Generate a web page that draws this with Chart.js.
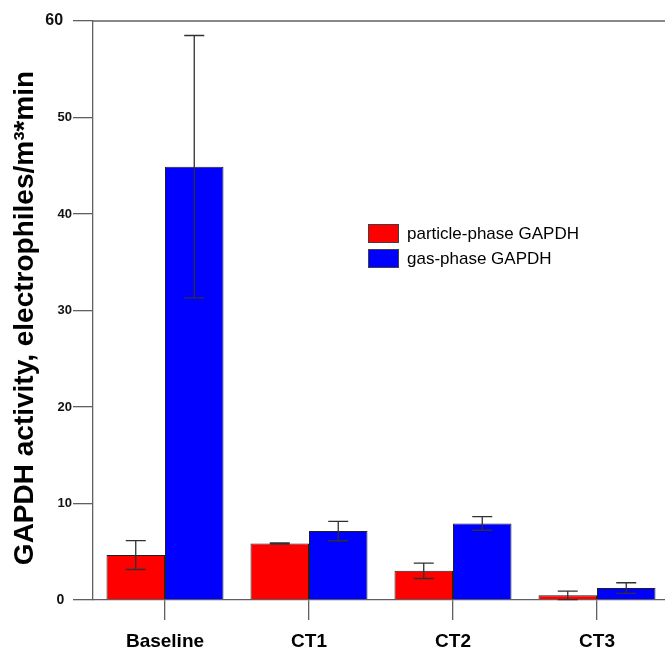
<!DOCTYPE html>
<html>
<head>
<meta charset="utf-8">
<script src="https://cdn.jsdelivr.net/npm/chart.js@4"></script>
<style>
  html, body { margin: 0; padding: 0; background: #fff; overflow: hidden; }
  #wrap { width: 665px; height: 649px; overflow: hidden; }
  canvas { display: block; }
</style>
</head>
<body>
<div id="wrap"><canvas id="c" width="669" height="649" style="width:669px;height:649px"></canvas></div>
<script>
const categories = ['Baseline', 'CT1', 'CT2', 'CT3'];
const seriesLabels = ['particle-phase GAPDH', 'gas-phase GAPDH'];
const particleValues = [4.66, 5.86, 3.03, 0.48];
const particleErrors = [1.5, 0.06, 0.8, 0.45];
const gasValues = [44.9, 7.14, 7.93, 1.24];
const gasErrors = [13.6, 1.0, 0.7, 0.55];
const yTicks = [0, 10, 20, 30, 40, 50, 60];
const yTitle = 'GAPDH activity, electrophiles/m³*min';

const FONT = "'Liberation Sans', Arial, Helvetica, sans-serif";
const AXIS = '#606060';
Chart.defaults.font.family = FONT;

const errorSets = [particleErrors, gasErrors];

const extras = {
  id: 'extras',
  afterDatasetsDraw(chart) {
    const ctx = chart.ctx;
    const y = chart.scales.y;
    ctx.save();
    ctx.strokeStyle = '#303030';
    ctx.lineWidth = 1.3;
    errorSets.forEach((errs, di) => {
      const meta = chart.getDatasetMeta(di);
      meta.data.forEach((el, i) => {
        const v = chart.data.datasets[di].data[i];
        const yt = y.getPixelForValue(v + errs[i]);
        const yb = y.getPixelForValue(Math.max(0, v - errs[i]));
        ctx.beginPath();
        ctx.moveTo(el.x, yt); ctx.lineTo(el.x, yb);
        ctx.moveTo(el.x - 10, yt); ctx.lineTo(el.x + 10, yt);
        ctx.moveTo(el.x - 10, yb); ctx.lineTo(el.x + 10, yb);
        ctx.stroke();
      });
    });
    ctx.restore();
  },
  afterDraw(chart) {
    const ctx = chart.ctx;
    const a = chart.chartArea;
    ctx.save();
    // top frame line
    ctx.strokeStyle = AXIS;
    ctx.lineWidth = 1.5;
    ctx.beginPath();
    ctx.moveTo(a.left, a.top); ctx.lineTo(a.right, a.top);
    ctx.stroke();
    // legend
    const lx = 368, ly = [224, 249];
    ctx.font = '17px ' + FONT;
    ctx.textBaseline = 'middle';
    ctx.textAlign = 'left';
    chart.data.datasets.forEach((ds, i) => {
      ctx.fillStyle = ds.backgroundColor;
      ctx.fillRect(lx, ly[i], 30, 18);
      ctx.strokeStyle = '#404040';
      ctx.lineWidth = 1;
      ctx.strokeRect(lx + 0.5, ly[i] + 0.5, 30, 18);
      ctx.fillStyle = '#000';
      ctx.fillText(ds.label, 407, ly[i] + 10);
    });
    // y title
    ctx.translate(33, 318);
    ctx.rotate(-Math.PI / 2);
    ctx.font = 'bold 28px ' + FONT;
    ctx.textAlign = 'center';
    ctx.textBaseline = 'alphabetic';
    ctx.fillStyle = '#000';
    ctx.fillText(yTitle, 0, 0);
    ctx.restore();
  }
};

new Chart(document.getElementById('c'), {
  type: 'bar',
  data: {
    labels: categories,
    datasets: [
      { label: seriesLabels[0], data: particleValues, backgroundColor: '#ff0000', borderColor: '#202020', borderWidth: 1 },
      { label: seriesLabels[1], data: gasValues, backgroundColor: '#0000ff', borderColor: '#202020', borderWidth: 1 }
    ]
  },
  options: {
    responsive: false,
    animation: false,
    devicePixelRatio: 1,
    layout: { padding: { top: 21, right: 0, left: 0, bottom: 0 } },
    plugins: { legend: { display: false }, tooltip: { enabled: false } },
    datasets: { bar: { categoryPercentage: 0.8125, barPercentage: 1 } },
    scales: {
      x: {
        grid: { drawOnChartArea: false, drawTicks: true, tickLength: 20, offset: false, color: AXIS, lineWidth: 1.3 },
        border: { display: true, color: AXIS, width: 1.3 },
        ticks: { color: '#000', font: { size: 19, weight: 'bold' }, padding: 10, maxRotation: 0 },
        afterFit(s) { s.height = 49; }
      },
      y: {
        min: 0, max: 60,
        afterBuildTicks(s) { s.ticks = yTicks.map(v => ({ value: v })); },
        grid: { drawOnChartArea: false, drawTicks: true, tickLength: 20, color: AXIS, lineWidth: 1.3 },
        border: { display: true, color: AXIS, width: 1.3 },
        ticks: {
          color: '#111',
          padding: 1,
          font: (c) => {
            const v = c.tick ? c.tick.value : null;
            if (v === 60) return { size: 16, weight: 'bold' };
            if (v === 0) return { size: 14, weight: 'bold' };
            return { size: 13, weight: 'bold' };
          },
          callback: (v) => (v === 60 || v === 0) ? String(v) + '  ' : String(v)
        },
        afterFit(s) { s.width = 93; }
      }
    }
  },
  plugins: [extras]
});
</script>
</body>
</html>
